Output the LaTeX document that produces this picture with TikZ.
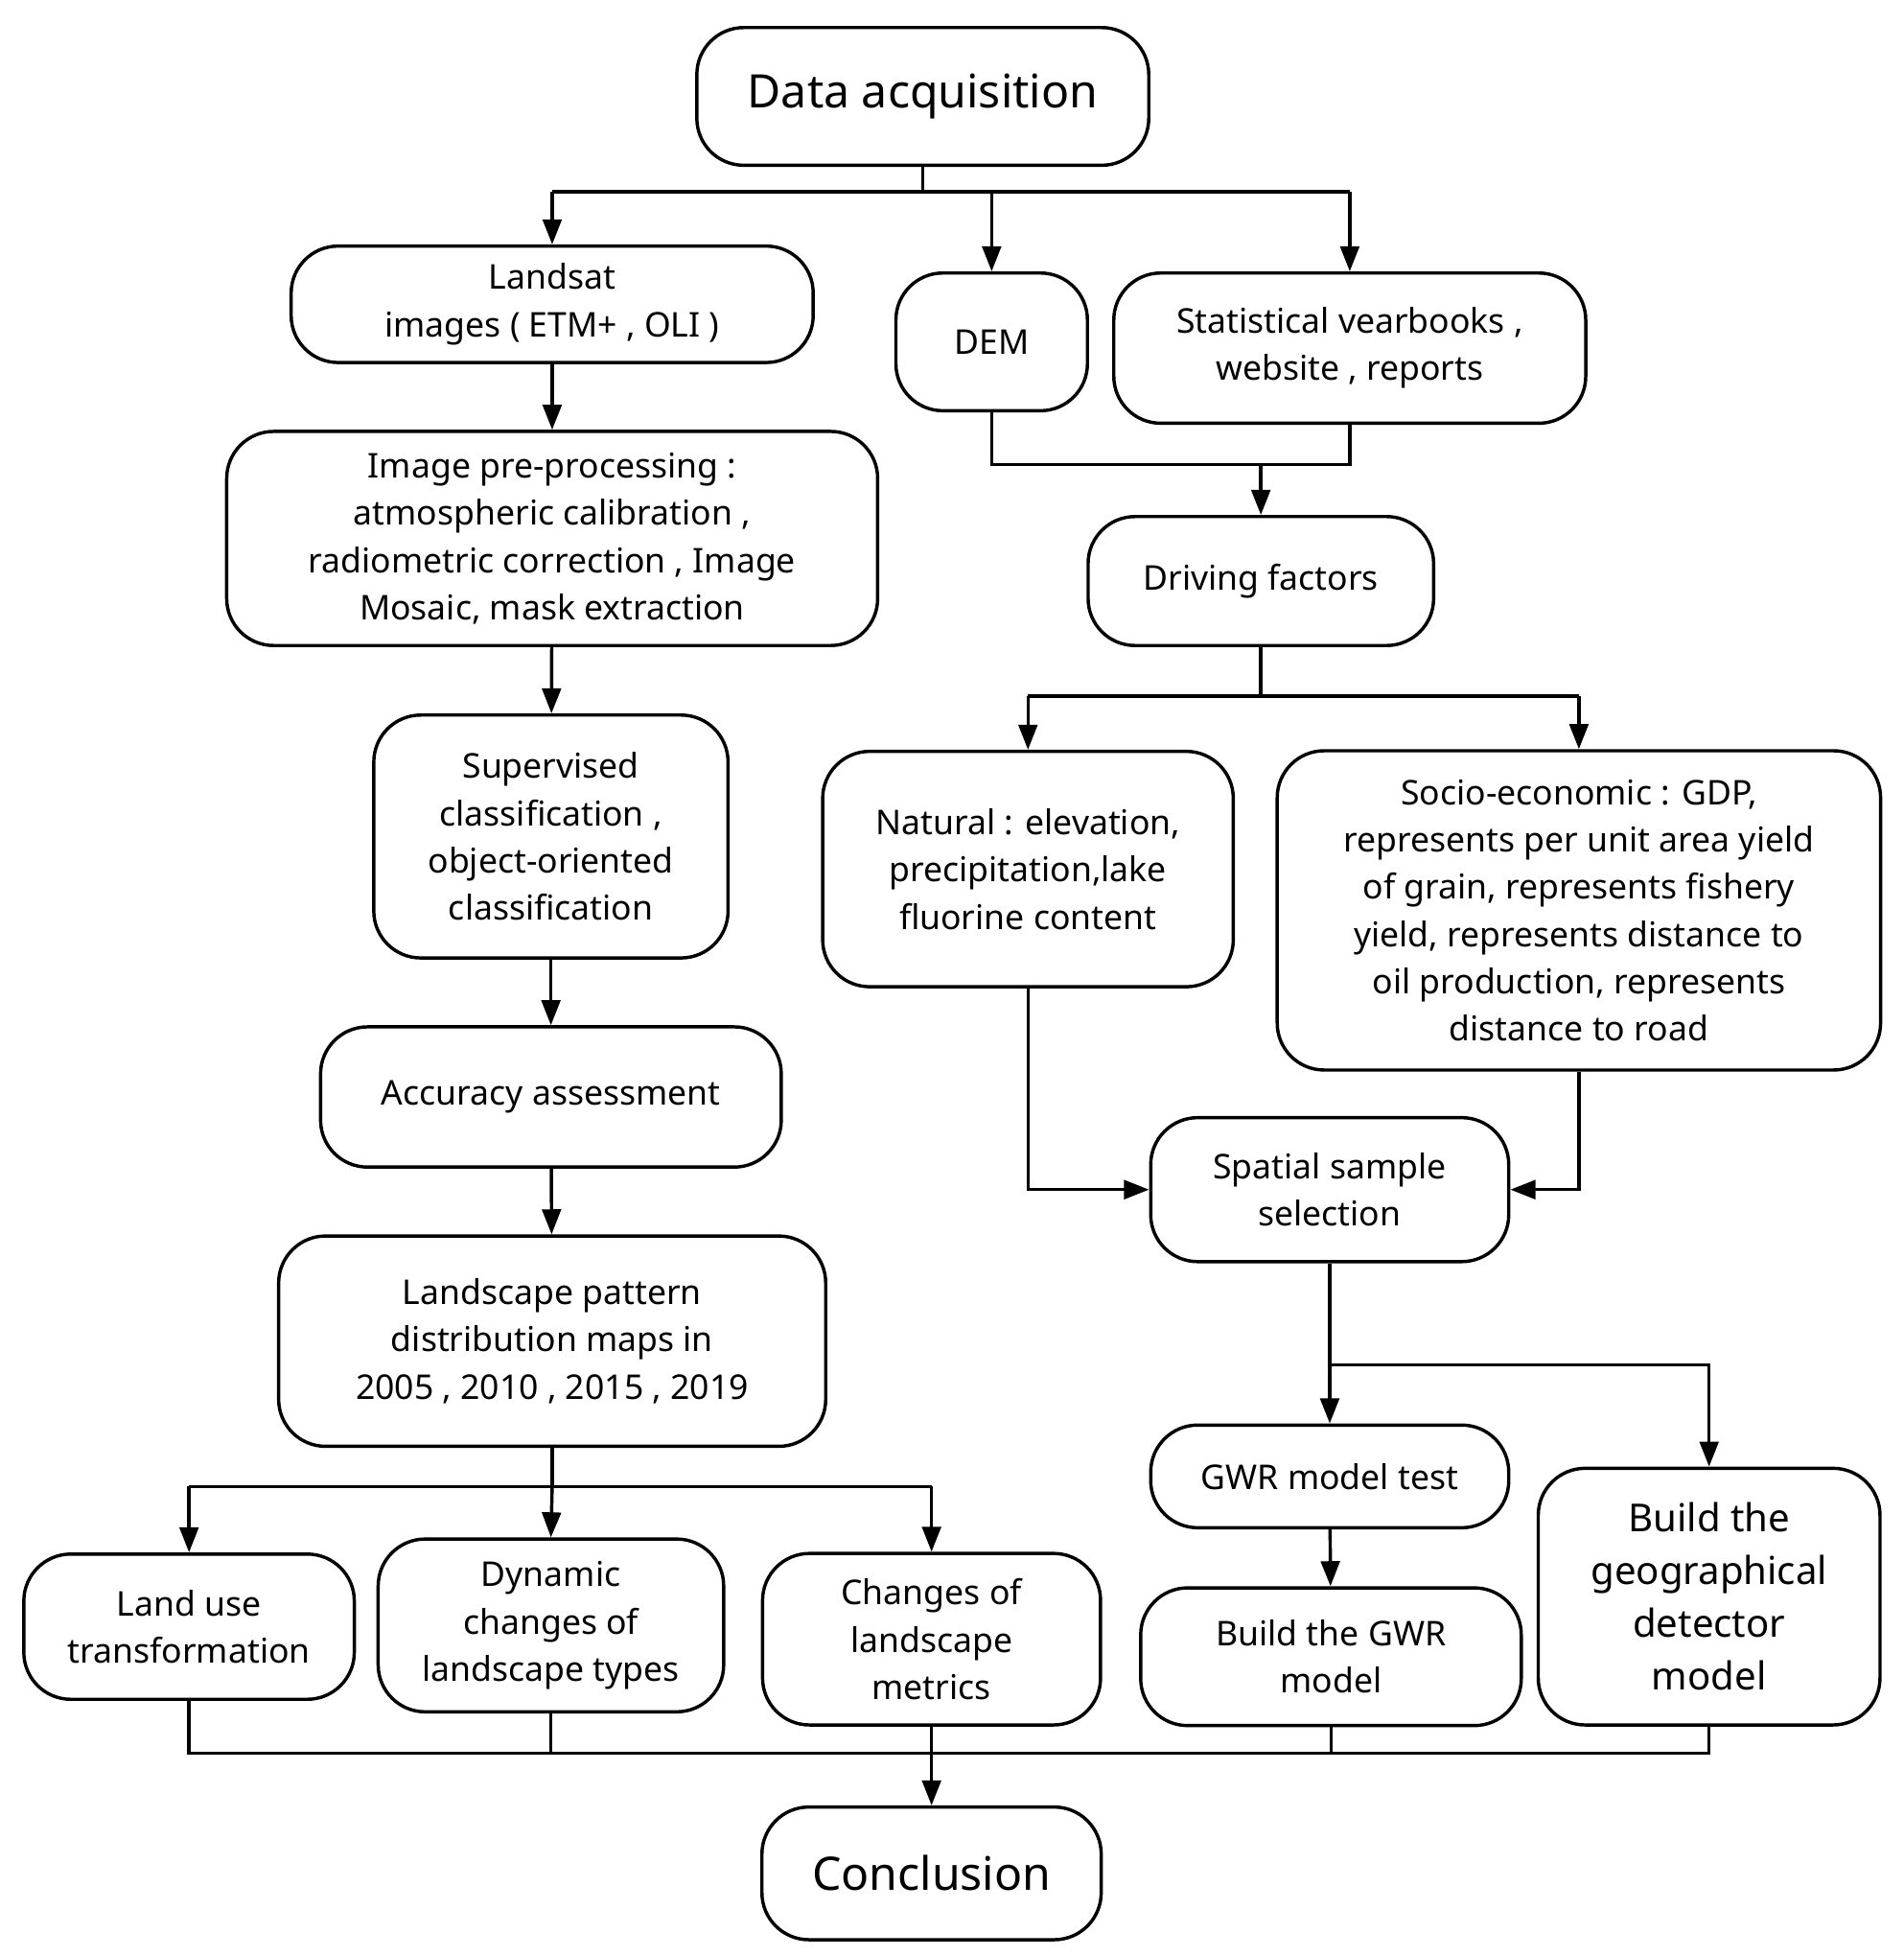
\documentclass[tikz,border=0pt]{standalone}
\usepackage{fontspec}
\setmainfont{Noto Sans}
\usetikzlibrary{arrows.meta}
\begin{document}
\begin{tikzpicture}[x=0.02cm,y=-0.02cm,
  box/.style={draw,line width=1.5pt,rounded corners=0.75cm,align=center,inner sep=0pt,
    font=\fontsize{15.5}{21.5}\selectfont},
  con/.style={line width=1.5pt},
  arr/.style={con,-{Triangle[length=0.4cm,width=0.3cm]}}]
\useasboundingbox (0,0) rectangle (1520,1562);
\node[box,minimum width=7.22cm,minimum height=2.2cm,font=\fontsize{21}{26}\selectfont] (da) at (737,77) {Data acquisition};
\node[box,minimum width=8.34cm,minimum height=1.86cm] (ls) at (441,243) {Landsat\\images ( ETM+ , OLI )};
\node[box,minimum width=3.06cm,minimum height=2.2cm] (dem) at (792,273) {DEM};
\node[box,minimum width=7.54cm,minimum height=2.4cm] (st) at (1078,278) {Statistical vearbooks ,\\website , reports};
\node[box,minimum width=10.4cm,minimum height=3.42cm] (pp) at (441,430) {Image pre-processing :\\atmospheric calibration ,\\radiometric correction , Image\\Mosaic, mask extraction};
\node[box,minimum width=5.52cm,minimum height=2.06cm] (df) at (1007,464) {Driving factors};
\node[box,minimum width=5.66cm,minimum height=3.88cm] (sc) at (440,668) {Supervised\\classification ,\\object-oriented\\classification};
\node[box,minimum width=6.56cm,minimum height=3.76cm] (na) at (821,694) {Natural : elevation,\\precipitation,lake\\fluorine content};
\node[box,minimum width=9.64cm,minimum height=5.1cm] (so) at (1261,727) {Socio-economic : GDP,\\represents per unit area yield\\of grain, represents fishery\\yield, represents distance to\\oil production, represents\\distance to road};
\node[box,minimum width=7.36cm,minimum height=2.24cm] (aa) at (440,876) {Accuracy assessment};
\node[box,minimum width=5.72cm,minimum height=2.3cm] (ss) at (1062,950) {Spatial sample\\selection};
\node[box,minimum width=8.74cm,minimum height=3.36cm] (lp) at (441,1071) {Landscape pattern\\distribution maps in\\2005 , 2010 , 2015 , 2019};
\node[box,minimum width=5.72cm,minimum height=1.64cm] (gt) at (1062,1179) {GWR model test};
\node[box,minimum width=6.08cm,minimum height=2.2cm] (bg) at (1063,1323) {Build the GWR\\model};
\node[box,minimum width=5.46cm,minimum height=4.1cm,font=\fontsize{17.5}{24}\selectfont] (gd) at (1365,1275) {Build the\\geographical\\detector\\model};
\node[box,minimum width=5.28cm,minimum height=2.32cm] (lu) at (151,1299) {Land use\\transformation};
\node[box,minimum width=5.52cm,minimum height=2.76cm] (dc) at (440,1298) {Dynamic\\changes of\\landscape types};
\node[box,minimum width=5.4cm,minimum height=2.74cm] (cl) at (744,1309) {Changes of\\landscape\\metrics};
\node[box,minimum width=5.42cm,minimum height=2.12cm,font=\fontsize{21}{26}\selectfont] (co) at (744,1496) {Conclusion};
% top
\draw[con] (da.south) -- (737,153) coordinate (t0);
\coordinate (t1) at (441,153); \coordinate (t2) at (1078,153); \coordinate (t3) at (792,153);
\draw[con] (t1) -- (t2);
\draw[arr] (t1) -- (ls.north);
\draw[arr] (t3) -- (dem.north);
\draw[arr] (t2) -- (st.north);
\draw[arr] (ls) -- (pp);
\draw[arr] (pp) -- (sc);
\draw[arr] (sc) -- (aa);
\draw[arr] (aa) -- (lp);
\coordinate (m1) at (1007,371);
\draw[con] (dem.south) |- (m1) -| (st.south);
\draw[arr] (m1) -- (df.north);
\coordinate (d1) at (821,556); \coordinate (d2) at (1261,556); \coordinate (d0) at (1007,556);
\draw[con] (df.south) -- (d0);
\draw[con] (d1) -- (d2);
\draw[arr] (d1) -- (na.north);
\draw[arr] (d2) -- (so.north);
\draw[arr] (na.south) |- (ss.west);
\draw[arr] (so.south) |- (ss.east);
\coordinate (g1) at (1062,1090); \coordinate (g2) at (1365,1090);
\draw[arr] (ss.south) -- (gt.north);
\draw[arr] (g1) -- (g2) -- (gd.north);
\draw[arr] (gt) -- (bg);
\coordinate (l0) at (441,1187); \coordinate (l1) at (151,1187); \coordinate (l2) at (744,1187);
\draw[con] (lp.south) -- (l0);
\draw[con] (l1) -- (l2);
\draw[arr] (l1) -- (lu.north);
\draw[arr] (l0) -- (dc.north);
\draw[arr] (l2) -- (cl.north);
\coordinate (b1) at (151,1400); \coordinate (b5) at (1365,1400);
\draw[con] (lu.south) -- (b1) -- (b5) -- (gd.south);
\draw[con] (dc.south) -- (440,1400);
\draw[con] (bg.south) -- (1063,1400);
\draw[arr] (cl.south) -- (co.north);
\end{tikzpicture}
\end{document}
